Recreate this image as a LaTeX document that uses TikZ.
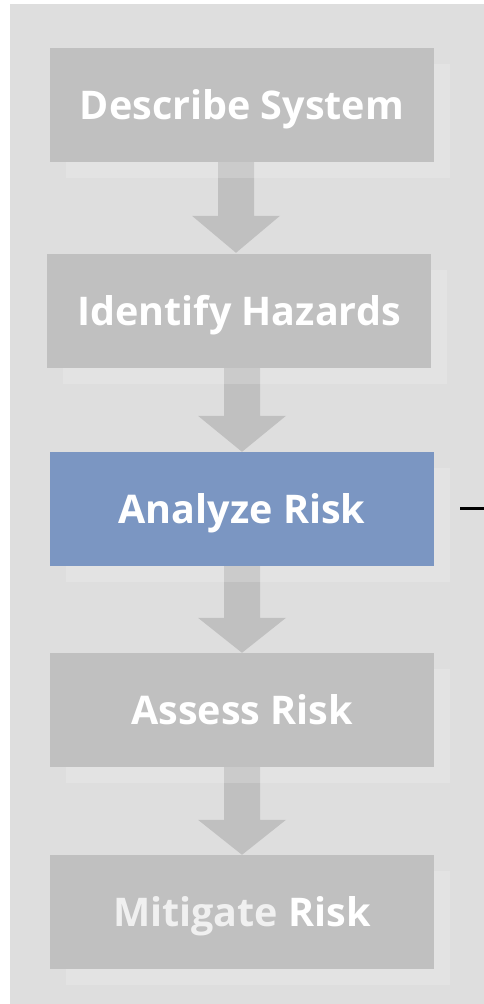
\documentclass[tikz,border=0pt]{standalone}
\usepackage{fontspec}
\setmainfont{Open Sans}
\usetikzlibrary{shadows,calc}
\definecolor{panelgray}{HTML}{DEDEDE}
\definecolor{boxgray}{HTML}{C0C0C0}
\definecolor{boxblue}{HTML}{7B96C2}
\definecolor{dimwhite}{HTML}{F0F0F0}
\pgfdeclarelayer{bg}
\pgfdeclarelayer{arr}
\pgfsetlayers{bg,arr,main}
\tikzset{
  stepbox/.style={fill=boxgray, text=white, minimum width=384pt, minimum height=114pt,
    inner sep=0pt, font=\fontsize{39.5}{46}\selectfont\bfseries,
    text height=28pt, text depth=0pt,
    drop shadow={shadow xshift=16pt, shadow yshift=-16pt, fill=white, opacity=0.18}},
  activebox/.style={stepbox, fill=boxblue},
  blockarrow/.style={fill=boxgray, draw=none},
}
\begin{document}
\begin{tikzpicture}[x=1pt,y=1pt]
\useasboundingbox (0,0) rectangle (484,-1004);
\begin{pgfonlayer}{bg}
  \fill[panelgray] (10,-4) rectangle (484,-1004);
\end{pgfonlayer}
\node[stepbox] (b1) at (242,-105) {Describe System};
\node[stepbox] (b2) at (239,-311) {Identify Hazards};
\node[activebox] (b3) at (242,-509) {Analyze Risk};
\node[stepbox] (b4) at (242,-710) {Assess Risk};
\node[stepbox] (b5) at (242,-912) {{\color{dimwhite}Mitigate} Risk};
\begin{pgfonlayer}{arr}
  \fill[blockarrow] let \p1=($(b1.south)+(-6,0)$), \p2=(b2.north) in
    (\x1-18,\y1) -- (\x1+18,\y1) -- (\x1+18,\y2+38) -- (\x1+44,\y2+38) -- (\x1,\y2+1)
    -- (\x1-44,\y2+38) -- (\x1-18,\y2+38) -- cycle;
  \fill[blockarrow] let \p1=($(b2.south)+(3,0)$), \p2=(b3.north) in
    (\x1-18,\y1) -- (\x1+18,\y1) -- (\x1+18,\y2+36) -- (\x1+44,\y2+36) -- (\x1,\y2)
    -- (\x1-44,\y2+36) -- (\x1-18,\y2+36) -- cycle;
  \fill[blockarrow] let \p1=(b3.south), \p2=(b4.north) in
    (\x1-18,\y1) -- (\x1+18,\y1) -- (\x1+18,\y2+35) -- (\x1+44,\y2+35) -- (\x1,\y2)
    -- (\x1-44,\y2+35) -- (\x1-18,\y2+35) -- cycle;
  \fill[blockarrow] let \p1=(b4.south), \p2=(b5.north) in
    (\x1-18,\y1) -- (\x1+18,\y1) -- (\x1+18,\y2+35) -- (\x1+44,\y2+35) -- (\x1,\y2)
    -- (\x1-44,\y2+35) -- (\x1-18,\y2+35) -- cycle;
\end{pgfonlayer}
\coordinate (lineS) at ($(b3.east)+(26,1)$);
\coordinate (lineE) at (484,-508);
\draw[line width=3pt, black] (lineS) -- (lineE);
\end{tikzpicture}
\end{document}
